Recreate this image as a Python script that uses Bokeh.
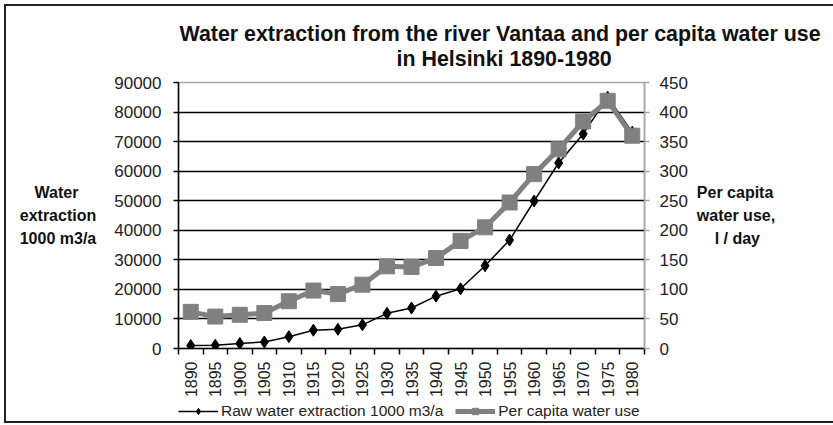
import math
from bokeh.plotting import figure
from bokeh.layouts import column
from bokeh.models import (Range1d, LinearAxis, FixedTicker, Legend, LegendItem,
                          Title, NumeralTickFormatter, Grid)
from bokeh.embed import file_html
from bokeh.resources import INLINE

# ---------------- data ----------------
years = [1890, 1895, 1900, 1905, 1910, 1915, 1920, 1925, 1930, 1935,
         1940, 1945, 1950, 1955, 1960, 1965, 1970, 1975, 1980]
raw_extraction = [1000, 1100, 1700, 2200, 4000, 6200, 6500, 8000, 11900, 13700,
                  17700, 20200, 28000, 36700, 49900, 62800, 72600, 85000, 73200]
per_capita_use = [62, 54, 57, 60, 80, 98, 92, 108, 139, 138,
                  153, 182, 205, 247, 295, 337, 384, 419, 360]
left_ticks = [0, 10000, 20000, 30000, 40000, 50000, 60000, 70000, 80000, 90000]
right_ticks = [0, 50, 100, 150, 200, 250, 300, 350, 400, 450]

title_line1 = "Water extraction from the river Vantaa and per capita water use"
title_line2 = "in Helsinki 1890-1980"
NB = "\u00a0"
left_label = "Water" + NB * 4 + "\nextraction\n1000 m3/a"
right_label = "Per capita\nwater use,\n" + NB * 4 + "l / day"
series_names = ["Raw water extraction 1000 m3/a", "Per capita water use"]

FONT = "Liberation Sans"
GREY = "#808080"
AXGREY = "#a6a6a6"

half = (years[1] - years[0]) / 2
boundaries = [y - half for y in years] + [years[-1] + half]

p = figure(width=827, height=395, output_backend="svg", toolbar_location=None,
           x_range=Range1d(years[0] - half, years[-1] + half),
           y_range=Range1d(left_ticks[0], left_ticks[-1]),
           x_axis_type=None, y_axis_type=None,
           min_border_left=172, min_border_right=189,
           min_border_top=76, min_border_bottom=53)
p.extra_y_ranges = {"right": Range1d(right_ticks[0], right_ticks[-1])}
p.background_fill_color = "white"
p.border_fill_color = "white"
p.outline_line_color = AXGREY
p.outline_line_width = 1.5

# x axis: labels at centres, tick marks between categories
xaxis = LinearAxis(ticker=FixedTicker(ticks=years, minor_ticks=boundaries),
                   formatter=NumeralTickFormatter(format="0"))
xaxis.axis_label = None
xaxis.axis_label_standoff = 0
xaxis.major_tick_out = 0
xaxis.major_tick_in = 0
xaxis.minor_tick_out = 6
xaxis.minor_tick_in = 0
xaxis.minor_tick_line_color = "black"
xaxis.minor_tick_line_width = 1.5
xaxis.axis_line_color = "black"
xaxis.axis_line_width = 1.5
xaxis.major_label_orientation = math.pi / 2
xaxis.major_label_standoff = 7
xaxis.major_label_text_font = FONT
xaxis.major_label_text_font_size = "16px"
xaxis.major_label_text_color = "#222"
p.add_layout(xaxis, "below")

# left axis
yaxis = LinearAxis(ticker=FixedTicker(ticks=left_ticks),
                   formatter=NumeralTickFormatter(format="0"))
yaxis.axis_line_color = "black"
yaxis.axis_line_width = 1.5
yaxis.major_tick_line_color = "black"
yaxis.major_tick_line_width = 1.5
yaxis.major_tick_out = 5
yaxis.major_tick_in = 0
yaxis.minor_tick_line_color = None
yaxis.major_label_standoff = 12
yaxis.major_label_text_font = FONT
yaxis.major_label_text_font_size = "17px"
yaxis.major_label_text_color = "#222"
yaxis.axis_label = left_label
yaxis.axis_label_orientation = "horizontal"
yaxis.axis_label_text_font = FONT
yaxis.axis_label_text_font_style = "bold"
yaxis.axis_label_text_font_size = "16px"
yaxis.axis_label_text_line_height = 1.35
yaxis.axis_label_text_color = "#111"
yaxis.axis_label_standoff = 15
p.add_layout(yaxis, "left")

# right axis
raxis = LinearAxis(y_range_name="right", ticker=FixedTicker(ticks=right_ticks),
                   formatter=NumeralTickFormatter(format="0"))
raxis.axis_line_color = AXGREY
raxis.axis_line_width = 1.5
raxis.major_tick_line_color = AXGREY
raxis.major_tick_line_width = 1.5
raxis.major_tick_out = 5
raxis.major_tick_in = 0
raxis.minor_tick_line_color = None
raxis.major_label_standoff = 10
raxis.major_label_text_font = FONT
raxis.major_label_text_font_size = "17px"
raxis.major_label_text_color = "#222"
raxis.axis_label = right_label
raxis.axis_label_orientation = "horizontal"
raxis.axis_label_text_font = FONT
raxis.axis_label_text_font_style = "bold"
raxis.axis_label_text_font_size = "16px"
raxis.axis_label_text_line_height = 1.35
raxis.axis_label_text_color = "#111"
raxis.axis_label_standoff = 6
p.add_layout(raxis, "right")

# horizontal grid lines
grid = Grid(dimension=1, ticker=FixedTicker(ticks=left_ticks[1:-1]),
            grid_line_color="black", grid_line_width=1.5)
p.add_layout(grid, "center")

# series
bl = p.line(years, raw_extraction, line_color="black", line_width=1.5)
bs = p.scatter(years, raw_extraction, marker="diamond", size=12,
               fill_color="black", line_color="black")
gl = p.line(years, per_capita_use, y_range_name="right", line_color=GREY, line_width=5)
gs = p.scatter(years, per_capita_use, y_range_name="right", marker="square", size=15,
               fill_color=GREY, line_color=GREY)

# two-line title
t2 = Title(text=title_line2, align="left", offset=218, standoff=24,
           text_font=FONT, text_font_size="21.4px", text_font_style="bold",
           text_color="#111")
t1 = Title(text=title_line1, align="left", offset=1, standoff=-27,
           text_font=FONT, text_font_size="21.4px", text_font_style="bold",
           text_color="#111")
p.add_layout(t2, "above")
p.add_layout(t1, "above")

# legend strip below the chart (its renderers' data lie outside its view)
lg = figure(width=827, height=20, output_backend="svg", toolbar_location=None,
            x_range=Range1d(0, 1), y_range=Range1d(0, 1),
            x_axis_type=None, y_axis_type=None, min_border=0)
lg.outline_line_color = None
lg.background_fill_color = "white"
lg.border_fill_color = "white"
lbl = lg.line(years, raw_extraction, line_color="black", line_width=1.5)
lbs = lg.scatter(years, raw_extraction, marker="diamond", size=10,
                 fill_color="black", line_color="black")
lgl = lg.line(years, per_capita_use, line_color=GREY, line_width=5)
lgs = lg.scatter(years, per_capita_use, marker="square", size=10,
                 fill_color=GREY, line_color=GREY)
legend = Legend(items=[LegendItem(label=series_names[0], renderers=[lbl, lbs]),
                       LegendItem(label=series_names[1], renderers=[lgl, lgs])],
                orientation="horizontal", location=(0, 1),
                glyph_width=40, glyph_height=16, label_standoff=3, spacing=12,
                padding=0, margin=0, border_line_color=None,
                background_fill_alpha=0,
                label_text_font=FONT, label_text_font_size="15.5px",
                label_text_color="#222")
lg.add_layout(legend, "center")

layout = column(p, lg, spacing=0)
layout.styles = {"margin": "4px 0px 0px 4px",
                 "border-left": "2px solid #222",
                 "border-top": "2px solid #222",
                 "border-bottom": "2px solid #222"}
open("out.html", "w").write(file_html(layout, INLINE))
